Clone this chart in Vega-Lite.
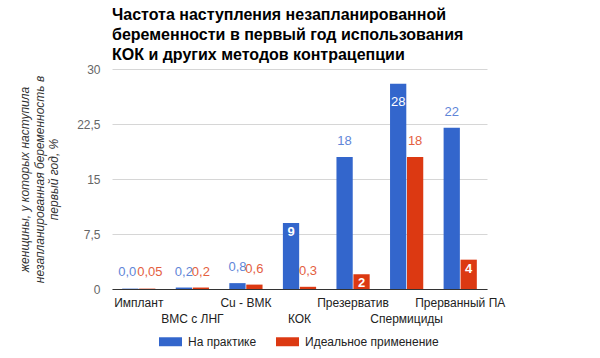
{
  "$schema": "https://vega.github.io/schema/vega-lite/v6.json",
  "autosize": {"type": "none"},
  "width": 375,
  "height": 220,
  "padding": {"left": 112, "top": 69, "right": 113, "bottom": 69},
  "background": "white",
  "config": {
    "font": "Liberation Sans",
    "view": {"stroke": null},
    "axis": {"labelFont": "Liberation Sans", "titleFont": "Liberation Sans"}
  },
  "title": {
    "text": ["Частота наступления незапланированной", "беременности в первый год использования", "КОК и других методов контрацепции"],
    "anchor": "start",
    "frame": "group",
    "fontSize": 16,
    "fontWeight": "bold",
    "font": "Liberation Sans",
    "color": "#000000",
    "lineHeight": 20,
    "offset": 0
  },
  "data": {
    "values": [
      {"method": "Имплант", "series": "На практике", "value": 0.05, "label": "0,0"},
      {"method": "Имплант", "series": "Идеальное применение", "value": 0.05, "label": "0,05"},
      {"method": "ВМС с ЛНГ", "series": "На практике", "value": 0.2, "label": "0,2"},
      {"method": "ВМС с ЛНГ", "series": "Идеальное применение", "value": 0.2, "label": "0,2"},
      {"method": "Cu - ВМК", "series": "На практике", "value": 0.8, "label": "0,8"},
      {"method": "Cu - ВМК", "series": "Идеальное применение", "value": 0.6, "label": "0,6"},
      {"method": "КОК", "series": "На практике", "value": 9, "label": "9"},
      {"method": "КОК", "series": "Идеальное применение", "value": 0.3, "label": "0,3"},
      {"method": "Презерватив", "series": "На практике", "value": 18, "label": "18"},
      {"method": "Презерватив", "series": "Идеальное применение", "value": 2, "label": "2"},
      {"method": "Спермициды", "series": "На практике", "value": 28, "label": "28"},
      {"method": "Спермициды", "series": "Идеальное применение", "value": 18, "label": "18"},
      {"method": "Прерванный ПА", "series": "На практике", "value": 22, "label": "22"},
      {"method": "Прерванный ПА", "series": "Идеальное применение", "value": 4, "label": "4"}
    ]
  },
  "encoding": {
    "x": {
      "field": "method",
      "type": "nominal",
      "sort": ["Имплант", "ВМС с ЛНГ", "Cu - ВМК", "КОК", "Презерватив", "Спермициды", "Прерванный ПА"],
      "scale": {"paddingInner": 0.38, "paddingOuter": 0.19},
      "axis": {
        "title": null,
        "labelAngle": 0,
        "labelOverlap": false,
        "labelLimit": 0,
        "labelFontSize": 12,
        "labelColor": "#222222",
        "labelPadding": 8,
        "labelBaseline": "top",
        "labelLineHeight": 16,
        "labelExpr": "indexof(['ВМС с ЛНГ', 'КОК', 'Спермициды'], datum.label) >= 0 ? ['', datum.label] : datum.label",
        "ticks": false,
        "domainColor": "#333333",
        "domainWidth": 1
      }
    },
    "xOffset": {
      "field": "series",
      "type": "nominal",
      "sort": ["На практике", "Идеальное применение"],
      "scale": {"paddingInner": 0.04}
    },
    "y": {
      "field": "value",
      "type": "quantitative",
      "scale": {"domain": [0, 30], "nice": false},
      "axis": {
        "values": [0, 7.5, 15, 22.5, 30],
        "labelExpr": "replace(format(datum.value, '~g'), '.', ',')",
        "labelFontSize": 12,
        "labelColor": "#666666",
        "labelPadding": 12,
        "ticks": false,
        "domain": false,
        "gridColor": "#d6d6d6",
        "title": ["женщины, у которых наступила", "незапланированная беременность в", "первый год, %"],
        "titleFontStyle": "italic",
        "titleFontWeight": "normal",
        "titleFontSize": 12,
        "titleColor": "#333333",
        "titleLineHeight": 14.5,
        "titlePadding": 16
      }
    }
  },
  "layer": [
    {
      "mark": {"type": "bar"},
      "encoding": {
        "color": {
          "field": "series",
          "type": "nominal",
          "sort": ["На практике", "Идеальное применение"],
          "scale": {"domain": ["На практике", "Идеальное применение"], "range": ["#3366cc", "#dc3912"]},
          "legend": {
            "title": null,
            "orient": "none",
            "direction": "horizontal",
            "legendX": 47,
            "legendY": 261,
            "symbolType": "M-1,-0.39H1V0.39H-1Z",
            "symbolSize": 529,
            "symbolStrokeWidth": 0,
            "symbolOpacity": 1,
            "labelFontSize": 12,
            "labelColor": "#222222",
            "labelOffset": 6,
            "columnPadding": 19,
            "padding": 0
          }
        }
      }
    },
    {
      "transform": [
        {"filter": "datum.method !== 'Имплант' && (indexof(['9','2','4','28'], datum.label) < 0)"}
      ],
      "mark": {"type": "text", "baseline": "alphabetic", "dy": -12, "fontSize": 13},
      "encoding": {
        "text": {"field": "label"},
        "color": {
          "condition": {"test": "datum.series === 'На практике'", "value": "#5f86d8"},
          "value": "#e4603f"
        }
      }
    },
    {
      "transform": [
        {"filter": "datum.method === 'Имплант' && datum.series === 'На практике'"}
      ],
      "mark": {"type": "text", "baseline": "alphabetic", "align": "right", "dx": 6, "dy": -13, "fontSize": 13, "color": "#5f86d8"},
      "encoding": {"text": {"field": "label"}}
    },
    {
      "transform": [
        {"filter": "datum.method === 'Имплант' && datum.series === 'Идеальное применение'"}
      ],
      "mark": {"type": "text", "baseline": "alphabetic", "align": "left", "dx": -10, "dy": -13, "fontSize": 13, "color": "#e4603f"},
      "encoding": {"text": {"field": "label"}}
    },
    {
      "transform": [
        {"filter": "indexof(['9','2','4'], datum.label) >= 0"}
      ],
      "mark": {"type": "text", "baseline": "top", "dy": 3, "fontSize": 13, "fontWeight": "bold", "color": "white"},
      "encoding": {"text": {"field": "label"}}
    },
    {
      "transform": [
        {"filter": "datum.label === '28'"}
      ],
      "mark": {"type": "text", "baseline": "top", "dy": 12, "fontSize": 13, "color": "white"},
      "encoding": {"text": {"field": "label"}}
    }
  ]
}
